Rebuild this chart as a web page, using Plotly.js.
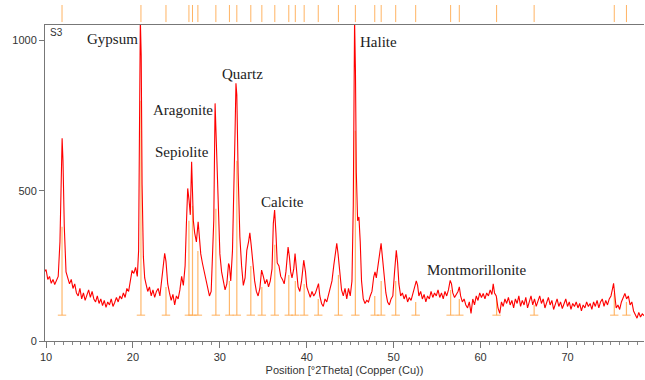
<!DOCTYPE html>
<html>
<head>
<meta charset="utf-8">
<script src="https://cdn.plot.ly/plotly-3.0.1.min.js"></script>
<style>html,body{margin:0;padding:0;background:#fff;}#chart{width:645px;height:380px;}</style>
</head>
<body>
<div id="chart"></div>
<script>
const twoTheta = [9.8,10.0,10.2,10.4,10.6,10.8,11.0,11.2,11.4,11.6,11.75,11.85,11.95,12.1,12.3,12.5,12.7,12.9,13.1,13.3,13.5,13.7,13.9,14.1,14.3,14.5,14.7,14.9,15.1,15.3,15.5,15.7,15.9,16.1,16.3,16.5,16.7,16.9,17.1,17.3,17.5,17.7,17.9,18.1,18.3,18.5,18.7,18.9,19.1,19.3,19.5,19.7,19.9,20.1,20.3,20.5,20.65,20.75,20.85,20.95,21.05,21.2,21.35,21.5,21.7,21.9,22.1,22.3,22.5,22.7,22.9,23.1,23.3,23.5,23.65,23.8,24.0,24.2,24.4,24.6,24.8,25.0,25.2,25.4,25.6,25.8,26.0,26.15,26.3,26.45,26.6,26.75,26.85,26.95,27.1,27.3,27.5,27.65,27.8,28.0,28.2,28.4,28.6,28.8,29.0,29.15,29.3,29.45,29.55,29.7,29.85,30.0,30.2,30.4,30.6,30.8,31.0,31.1,31.25,31.45,31.6,31.75,31.85,31.95,32.1,32.3,32.5,32.7,32.9,33.1,33.3,33.45,33.6,33.8,34.0,34.2,34.4,34.6,34.8,35.0,35.2,35.4,35.6,35.8,36.0,36.15,36.3,36.45,36.6,36.8,37.0,37.2,37.4,37.6,37.85,38.0,38.15,38.3,38.5,38.65,38.8,39.0,39.2,39.4,39.65,39.85,40.0,40.2,40.4,40.6,40.8,41.0,41.2,41.35,41.5,41.7,41.9,42.1,42.3,42.5,42.7,42.9,43.1,43.3,43.45,43.6,43.8,44.0,44.2,44.4,44.6,44.8,45.0,45.2,45.35,45.5,45.6,45.7,45.85,46.0,46.15,46.3,46.5,46.7,46.9,47.1,47.3,47.5,47.7,47.85,48.0,48.2,48.4,48.55,48.7,48.9,49.1,49.3,49.5,49.7,49.9,50.1,50.3,50.45,50.6,50.8,51.0,51.2,51.4,51.6,51.8,52.0,52.2,52.4,52.6,52.75,52.9,53.1,53.3,53.5,53.7,53.9,54.1,54.3,54.5,54.7,54.9,55.1,55.3,55.5,55.7,55.9,56.1,56.3,56.5,56.65,56.8,57.0,57.2,57.4,57.55,57.7,57.9,58.1,58.3,58.5,58.7,58.9,59.1,59.3,59.5,59.7,59.9,60.1,60.3,60.5,60.7,60.9,61.1,61.3,61.45,61.6,61.8,62.0,62.2,62.4,62.6,62.8,63.0,63.2,63.4,63.6,63.8,64.0,64.2,64.4,64.6,64.8,65.0,65.2,65.4,65.6,65.8,66.0,66.2,66.4,66.6,66.8,67.0,67.2,67.4,67.6,67.8,68.0,68.2,68.4,68.6,68.8,69.0,69.2,69.4,69.6,69.8,70.0,70.2,70.4,70.6,70.8,71.0,71.2,71.4,71.6,71.8,72.0,72.2,72.4,72.6,72.8,73.0,73.2,73.4,73.6,73.8,74.0,74.2,74.4,74.6,74.8,75.0,75.15,75.3,75.45,75.6,75.8,76.0,76.2,76.4,76.6,76.8,77.0,77.2,77.4,77.6,77.8,78.0,78.2,78.4,78.6,78.8,79.0];
const counts = [230,238,205,215,192,205,188,200,215,330,560,675,600,380,230,205,190,205,175,190,160,150,175,140,160,135,155,170,145,165,140,130,150,125,140,118,135,112,130,120,140,115,128,145,130,150,140,160,145,175,165,200,235,225,245,215,300,700,1070,950,520,280,210,190,165,180,150,170,145,165,175,150,200,260,292,265,190,160,135,155,120,150,140,170,215,185,250,390,508,470,420,597,480,400,360,330,397,340,290,258,230,210,180,150,165,260,402,791,700,569,380,290,230,200,170,190,258,250,200,300,458,700,858,820,560,347,250,185,210,302,330,360,320,250,200,165,150,175,236,215,190,205,180,200,240,391,436,360,260,250,215,205,190,230,313,280,230,210,240,291,230,180,165,200,269,230,180,158,145,165,150,160,175,191,150,125,115,140,130,155,170,200,250,300,325,290,220,170,150,175,140,175,150,200,450,1070,900,560,400,413,330,200,140,125,135,130,150,165,213,230,210,250,300,325,280,210,160,130,120,140,150,230,302,260,190,150,160,140,155,130,145,135,160,180,200,185,150,165,140,155,130,150,140,165,145,160,150,170,145,160,140,165,150,170,202,190,160,145,155,165,180,150,130,140,120,110,130,92,140,120,150,135,160,145,158,140,160,150,170,155,190,160,150,110,92,130,115,140,125,145,120,135,110,140,125,150,115,135,120,145,110,130,150,120,140,115,135,150,125,140,110,130,145,120,135,105,125,140,115,130,108,125,140,115,130,105,125,115,130,110,125,100,120,110,130,115,125,105,130,115,135,110,130,140,115,135,120,140,150,170,192,150,110,120,105,130,145,158,140,150,120,130,100,85,76,95,80,90,85,90];

// Reference pattern lines (2Theta) and their stick heights
const refPos = [11.84,20.92,23.8,26.44,26.85,27.47,29.54,31.1,31.95,33.56,34.83,36.32,37.93,38.68,39.7,41.32,43.64,45.59,47.82,48.56,50.23,52.53,56.55,57.55,61.84,66.16,75.38,76.78];
const refHeight = [380,800,180,400,450,300,440,200,600,250,180,320,220,200,190,140,220,700,150,200,200,130,170,140,145,120,160,130];
const stickBase = 86;

// Phase labels
const labelText = ["Gypsum","Aragonite","Sepiolite","Quartz","Calcite","Halite","Montmorillonite"];
const labelX = [17.7,25.75,25.6,32.6,37.2,48.2,59.6];
const labelY = [1005,769,629,889,462,996,236];

const stickX = [], stickY = [], stripX = [], stripY = [];
refPos.forEach((p, i) => {
  stickX.push(p, p, null); stickY.push(stickBase, refHeight[i], null);
  stripX.push(p, p, null); stripY.push(0, 1, null);
});

const traces = [
  {x: stickX, y: stickY, type: 'scatter', mode: 'lines', line: {color: 'rgba(255,170,80,0.85)', width: 1.2}, hoverinfo: 'skip', xaxis: 'x', yaxis: 'y'},
  {x: refPos, y: refPos.map(() => stickBase), type: 'scatter', mode: 'markers', marker: {symbol: 'line-ew-open', size: 6, color: 'rgba(255,170,80,0.9)', line: {width: 1, color: 'rgba(255,170,80,0.9)'}}, hoverinfo: 'skip', xaxis: 'x', yaxis: 'y'},
  {x: twoTheta, y: counts, type: 'scatter', mode: 'lines', line: {color: 'rgb(255,0,0)', width: 1.1}, xaxis: 'x', yaxis: 'y'},
  {x: stripX, y: stripY, type: 'scatter', mode: 'lines', line: {color: 'rgba(255,160,60,0.8)', width: 1}, hoverinfo: 'skip', xaxis: 'x', yaxis: 'y2'}
];

const annotations = labelText.map((t, i) => ({
  x: labelX[i], y: labelY[i], xref: 'x', yref: 'y', text: t, showarrow: false,
  font: {family: 'Liberation Serif, Times New Roman, serif', size: 15, color: '#222'}
}));
annotations.push({xref: 'paper', yref: 'paper', x: 0.005, y: 0.94, xanchor: 'left', yanchor: 'top', text: 'S3', showarrow: false,
  font: {family: 'Liberation Sans, Arial, sans-serif', size: 10, color: '#333'}});

const layout = {
  width: 645, height: 380,
  margin: {l: 45, r: 1, t: 5, b: 39},
  paper_bgcolor: '#fff', plot_bgcolor: '#fff',
  showlegend: false,
  font: {family: 'Liberation Sans, Arial, sans-serif', size: 11, color: '#333'},
  xaxis: {
    range: [9.88, 78.8], showgrid: false, zeroline: false,
    showline: true, linecolor: '#777', linewidth: 1, mirror: true,
    tickmode: 'array', tickvals: [10,20,30,40,50,60,70], ticks: 'outside', ticklen: 6, tickcolor: '#777',
    minor: {dtick: 1, ticks: 'outside', ticklen: 3, tickcolor: '#888', showgrid: false},
    tickfont: {size: 11, color: '#333'},
    title: {text: 'Position [°2Theta] (Copper (Cu))', font: {size: 11, color: '#333'}, standoff: 4},
    anchor: 'y'
  },
  yaxis: {
    domain: [0, 0.9405], range: [0, 1052], showgrid: false, zeroline: false,
    showline: true, linecolor: '#777', linewidth: 1,
    tickvals: [0, 500, 1000], ticks: 'outside', ticklen: 5, tickcolor: '#777',
    tickfont: {size: 11, color: '#333'}, anchor: 'x'
  },
  yaxis2: {
    domain: [0.949, 1], range: [0, 1], showgrid: false, zeroline: false, showline: false,
    showticklabels: false, ticks: '', anchor: 'x'
  },
  annotations: annotations
};

Plotly.newPlot('chart', traces, layout, {displayModeBar: false, staticPlot: true});
</script>
</body>
</html>
